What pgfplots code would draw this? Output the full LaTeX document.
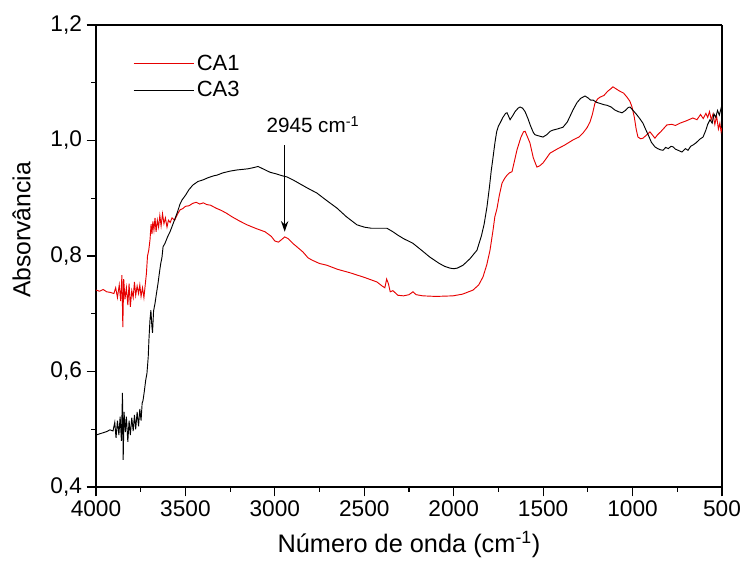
\documentclass[border=0pt]{standalone}
\usepackage{fontspec}
\setmainfont{Liberation Sans}
\usepackage{pgfplots}
\pgfplotsset{compat=1.18}
\usetikzlibrary{arrows.meta}
\definecolor{cared}{RGB}{230,0,0}
\begin{document}
\begin{tikzpicture}
\begin{axis}[
  scale only axis, width=469.5pt, height=346.5pt,
  xmin=500, xmax=4000, ymin=0.4, ymax=1.2, x dir=reverse,
  xtick={500,1000,1500,2000,2500,3000,3500,4000},
  ytick={0.4,0.6,0.8,1.0,1.2},
  minor x tick num=1, minor y tick num=1,
  tick align=outside, xtick pos=left, ytick pos=left,
  major tick length=7pt, minor tick length=3.5pt,
  separate axis lines,
  axis line style={line width=1.5pt},
  every tick/.style={line width=0.9pt, black},
  /pgf/number format/assume math mode=true,
  tick label style={font=\fontsize{17}{19}\selectfont},
  xticklabel style={/pgf/number format/1000 sep={}},
  yticklabel style={/pgf/number format/.cd, fixed, fixed zerofill, precision=1, use comma},
  xlabel={Número de onda (cm\textsuperscript{-1})},
  ylabel={Absorvância},
  xlabel style={font=\fontsize{19}{22}\selectfont, at={(axis description cs:0.5,0)}, anchor=base, yshift=-48.75pt},
  ylabel style={font=\fontsize{18.5}{22}\selectfont, at={(axis description cs:-0.134,0.556)}, anchor=north, inner sep=0pt},
  legend style={draw=none, fill=none, at={(axis description cs:0.0591,0.9416)}, anchor=north west, inner sep=0pt, font=\fontsize{16.5}{19}\selectfont, row sep=3pt},
  legend cell align=left,
  legend image code/.code={\draw[#1] (0pt,0pt) -- (45pt,0pt);},
  clip=true,
]
\addplot[cared, line width=0.7pt] coordinates {
(4000,0.741) (3980,0.739) (3960,0.742) (3940,0.738) (3920,0.737) (3900,0.735)
(3890,0.745) (3880,0.728) (3870,0.750) (3862,0.722) (3855,0.767) (3850,0.677)
(3845,0.760) (3838,0.725) (3830,0.745) (3822,0.715) (3815,0.752) (3808,0.712)
(3800,0.740) (3792,0.728) (3785,0.755) (3778,0.732) (3770,0.748) (3762,0.735)
(3755,0.750) (3748,0.730) (3740,0.745) (3732,0.728) (3726,0.746) (3718,0.770)
(3712,0.800) (3705,0.810) (3698,0.828) (3692,0.855) (3687,0.838) (3682,0.860)
(3676,0.845) (3670,0.866) (3664,0.842) (3657,0.862) (3650,0.850) (3643,0.870)
(3636,0.852) (3628,0.873) (3620,0.856) (3612,0.866) (3603,0.850) (3595,0.862)
(3585,0.858) (3575,0.866) (3560,0.862) (3545,0.872) (3530,0.880) (3515,0.882)
(3500,0.886) (3480,0.887) (3460,0.891) (3440,0.893) (3420,0.890) (3400,0.892)
(3380,0.889) (3360,0.888) (3330,0.883) (3300,0.879) (3270,0.874) (3240,0.868)
(3200,0.861) (3156,0.854) (3100,0.847) (3055,0.842) (3020,0.834) (3000,0.826)
(2980,0.824) (2960,0.829) (2945,0.833) (2925,0.830) (2900,0.822) (2877,0.816)
(2843,0.807) (2815,0.797) (2793,0.793) (2750,0.787) (2709,0.784) (2650,0.777)
(2580,0.771) (2500,0.763) (2429,0.755) (2400,0.748) (2385,0.745) (2375,0.760)
(2365,0.752) (2355,0.738) (2340,0.740) (2312,0.732) (2280,0.731) (2250,0.733)
(2228,0.738) (2210,0.733) (2172,0.731) (2100,0.730) (2004,0.731) (1950,0.734)
(1892,0.741) (1860,0.750) (1836,0.764) (1815,0.785) (1797,0.810) (1780,0.845)
(1770,0.868) (1758,0.882) (1745,0.905) (1730,0.926) (1716,0.934) (1702,0.940)
(1688,0.944) (1674,0.946) (1660,0.965) (1646,0.984) (1625,1.005) (1610,1.015)
(1601,1.016) (1590,1.008) (1574,0.996) (1555,0.970) (1535,0.954) (1520,0.956)
(1501,0.961) (1480,0.970) (1462,0.978) (1423,0.985) (1380,0.992) (1333,1.001)
(1300,1.006) (1277,1.013) (1255,1.022) (1238,1.032) (1225,1.045) (1210,1.065)
(1195,1.072) (1182,1.075) (1160,1.078) (1140,1.085) (1120,1.090) (1110,1.093)
(1095,1.090) (1075,1.086) (1050,1.082) (1031,1.075) (1015,1.068) (1003,1.058)
(990,1.040) (980,1.020) (970,1.006) (955,1.003) (942,1.004) (920,1.010)
(903,1.015) (890,1.010) (875,1.004) (860,1.010) (840,1.016) (808,1.027)
(780,1.028) (760,1.026) (735,1.030) (700,1.034) (663,1.039) (640,1.036)
(620,1.045) (605,1.038) (590,1.047) (580,1.040) (570,1.050) (560,1.036)
(550,1.046) (540,1.028) (530,1.042) (520,1.020) (512,1.030) (505,1.015) (500,1.022)
};
\addlegendentry{CA1}
\addplot[black, line width=0.7pt] coordinates {
(4000,0.490) (3980,0.492) (3960,0.494) (3940,0.496) (3922,0.499) (3905,0.497)
(3895,0.512) (3888,0.485) (3880,0.515) (3872,0.490) (3865,0.522) (3858,0.480)
(3852,0.563) (3848,0.447) (3843,0.530) (3836,0.495) (3830,0.522) (3822,0.478)
(3815,0.515) (3808,0.490) (3800,0.520) (3792,0.497) (3785,0.525) (3778,0.500)
(3770,0.530) (3762,0.505) (3755,0.535) (3748,0.515) (3742,0.545) (3737,0.550)
(3730,0.565) (3722,0.585) (3715,0.597) (3708,0.625) (3704,0.655) (3698,0.690)
(3693,0.706) (3688,0.680) (3684,0.667) (3678,0.705) (3670,0.718) (3662,0.735)
(3653,0.753) (3645,0.772) (3638,0.787) (3631,0.798) (3625,0.816) (3614,0.822)
(3600,0.833) (3586,0.842) (3570,0.855) (3547,0.874) (3530,0.890) (3519,0.897)
(3500,0.905) (3480,0.915) (3458,0.923) (3430,0.929) (3400,0.932) (3370,0.936)
(3340,0.939) (3324,0.940) (3290,0.944) (3250,0.947) (3212,0.949) (3180,0.950)
(3150,0.951) (3120,0.953) (3094,0.955) (3060,0.950) (3027,0.945) (2990,0.942)
(2960,0.939) (2933,0.937) (2900,0.932) (2877,0.928) (2820,0.918) (2765,0.909)
(2710,0.896) (2653,0.883) (2600,0.868) (2541,0.854) (2500,0.850) (2460,0.848)
(2429,0.848) (2400,0.848) (2373,0.848) (2340,0.842) (2312,0.836) (2280,0.830)
(2228,0.822) (2180,0.810) (2133,0.798) (2080,0.787) (2050,0.782) (2021,0.779)
(2000,0.778) (1980,0.779) (1948,0.784) (1910,0.795) (1870,0.810) (1845,0.835)
(1830,0.855) (1814,0.885) (1800,0.920) (1790,0.948) (1780,0.971) (1770,0.995)
(1760,1.015) (1750,1.025) (1741,1.030) (1725,1.040) (1710,1.047) (1702,1.048)
(1693,1.042) (1685,1.036) (1670,1.043) (1657,1.050) (1640,1.056) (1629,1.058)
(1615,1.056) (1601,1.050) (1585,1.038) (1570,1.025) (1555,1.014) (1546,1.010)
(1525,1.008) (1501,1.006) (1480,1.010) (1460,1.016) (1445,1.018) (1420,1.020)
(1389,1.023) (1365,1.032) (1345,1.045) (1333,1.053) (1310,1.066) (1290,1.073)
(1266,1.077) (1250,1.074) (1235,1.070) (1221,1.070) (1200,1.066) (1180,1.064)
(1160,1.062) (1143,1.061) (1120,1.058) (1100,1.053) (1080,1.050) (1059,1.048)
(1040,1.052) (1025,1.057) (1014,1.058) (1000,1.053) (980,1.046) (960,1.038)
(942,1.030) (925,1.018) (910,1.008) (895,0.997) (875,0.989) (860,0.986)
(845,0.984) (830,0.983) (815,0.988) (800,0.986) (785,0.990) (774,0.989)
(760,0.985) (745,0.983) (724,0.980) (705,0.986) (690,0.983) (675,0.990)
(663,0.992) (645,0.996) (625,1.002) (606,1.006) (590,1.018) (580,1.028)
(567,1.036) (555,1.030) (545,1.046) (535,1.040) (525,1.052) (515,1.044)
(510,1.050) (505,1.056) (500,1.050)
};
\addlegendentry{CA3}
\draw[line width=0.9pt, -{Stealth[length=8pt,width=5.5pt]}] (axis cs:2945,0.992) -- (axis cs:2945,0.842);
\node[anchor=base, inner sep=0pt, font=\fontsize{15.5}{17}\selectfont] at (axis cs:2787,1.013) {2945 cm\textsuperscript{-1}};
\coordinate (axsw) at (axis description cs:0,0);
\coordinate (axne) at (axis description cs:1,1);
\end{axis}
\pgfresetboundingbox
\path ([shift={(-72pt,-54.75pt)}]axsw) rectangle ([shift={(14.25pt,18.75pt)}]axne);
\end{tikzpicture}
\end{document}
